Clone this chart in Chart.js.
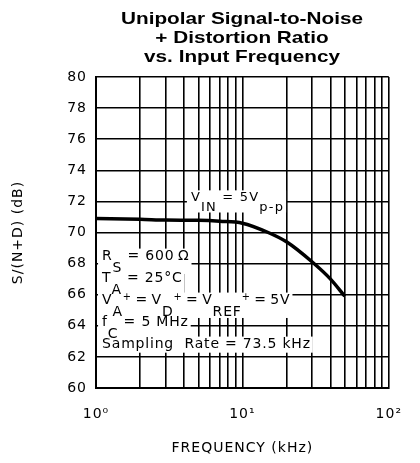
<!DOCTYPE html>
<html lang="en">
<head>
<meta charset="UTF-8">
<title>Unipolar Signal-to-Noise + Distortion Ratio vs. Input Frequency</title>
<script src="https://cdn.jsdelivr.net/npm/chart.js"></script>
<style>
  html, body { margin: 0; padding: 0; background: #fff; }
  #wrap { width: 420px; height: 463px; }
</style>
</head>
<body>
<div id="wrap"><canvas id="sndrChart" width="420" height="463"></canvas></div>
<script>
// curve
const freqKHz = [1, 2, 3, 5, 7, 10, 15, 20, 30, 40, 50];
const sndrDB  = [70.9, 70.85, 70.8, 70.78, 70.72, 70.6, 70.0, 69.4, 68.1, 67.0, 65.9];

// axes
const xGridTicks   = [1, 2, 3, 4, 5, 6, 7, 8, 9, 10, 20, 30, 40, 50, 60, 70, 80, 90, 100];
const xLabelValues = [1, 10, 100];
const xLabelText   = ['10⁰', '10¹', '10²'];
const yTicks       = [60, 62, 64, 66, 68, 70, 72, 74, 76, 78, 80];

const titleLines = ['Unipolar Signal-to-Noise', '+ Distortion Ratio', 'vs. Input Frequency'];
const xTitle = 'FREQUENCY (kHz)';
const yTitle = 'S/(N+D) (dB)';

// note text: [text, 0 normal / -1 subscript / 1 superscript]
const noteVin = [['V', 0], ['IN', -1], [' = 5V', 0], ['p-p', -1]];
const noteConditions = [
    [['R', 0], ['S', -1], [' = 600\u2009Ω', 0]],
    [['T', 0], ['A', -1], [' = 25°C', 0]],
    [['V', 0], ['A', -1], ['+', 1], ['\u2009=\u2009V', 0], ['D', -1], ['+', 1], ['\u2009=\u2009V', 0], ['REF', -1], ['+', 1], ['\u2009=\u20095V', 0]],
    [['f', 0], ['C', -1], [' = 5 MHz', 0]],
    [['Sampling  Rate = 73.5 kHz', 0]]
];

const FONT = '"DejaVu Sans", sans-serif';
const SUP_SCALE = 0.7;

function segFont(size, s) {
    return (s > 0 ? size * SUP_SCALE : size) + 'px ' + FONT;
}

function layoutRich(ctx, segs, x, size) {
    let cx = x;
    return segs.map(([t, s]) => {
        ctx.font = segFont(size, s);
        const w = ctx.measureText(t).width;
        const p = { t, s, x: cx, w };
        cx += w;
        return p;
    });
}

function drawRich(ctx, parts, y, size, subDrop) {
    ctx.fillStyle = '#000';
    ctx.textBaseline = 'alphabetic';
    ctx.textAlign = 'left';
    parts.forEach(p => {
        ctx.font = segFont(size, p.s);
        const dy = p.s < 0 ? size * subDrop : (p.s > 0 ? -size * 0.35 : 0);
        ctx.fillText(p.t, p.x, y + dy);
    });
}

function boxRich(ctx, parts, y, size, subDrop) {
    const last = parts[parts.length - 1];
    const hasSub = parts.some(p => p.s < 0);
    const top = y - size * 0.85;
    const bottom = y + (hasSub ? size * subDrop + 2 : size * 0.3);
    ctx.fillStyle = '#fff';
    ctx.fillRect(parts[0].x - 4, top, last.x + last.w - parts[0].x + 6, bottom - top);
}

// wider letters like the datasheet lettering
const spacingPlugin = {
    id: 'spacing',
    beforeUpdate(chart) { chart.ctx.letterSpacing = '1px'; },
    beforeDraw(chart) { chart.ctx.letterSpacing = '1px'; }
};

const notesPlugin = {
    id: 'notes',
    beforeDatasetsDraw(chart) {
        const { ctx, scales: { x, y } } = chart;
        ctx.save();

        // V_IN label sits on the 72 dB line
        ctx.letterSpacing = '1.2px';
        const vSize = 13, vDrop = 0.7;
        const vx = x.getPixelForValue(4.45), vy = y.getPixelForValue(72);
        const vParts = layoutRich(ctx, noteVin, vx, vSize);
        boxRich(ctx, vParts, vy, vSize, vDrop);
        drawRich(ctx, vParts, vy, vSize, vDrop);

        // test conditions block
        ctx.letterSpacing = '0.8px';
        const size = 14, drop = 0.82, step = 22;
        const cx = x.getPixelForValue(1.1), cy = y.getPixelForValue(68.2);
        const lines = noteConditions.map(segs => layoutRich(ctx, segs, cx, size));
        lines.forEach((parts, i) => boxRich(ctx, parts, cy + i * step, size, drop));
        lines.forEach((parts, i) => drawRich(ctx, parts, cy + i * step, size, drop));

        ctx.restore();
    }
};

const titlePlugin = {
    id: 'wideTitle',
    afterDraw(chart) {
        const { ctx } = chart;
        ctx.save();
        ctx.letterSpacing = '0px';
        ctx.fillStyle = '#000';
        ctx.textAlign = 'center';
        ctx.textBaseline = 'alphabetic';
        ctx.font = 'bold 17px "Liberation Sans", Arial, sans-serif';
        titleLines.forEach((line, i) => {
            ctx.save();
            ctx.translate(242, 24 + i * 18.8);
            ctx.scale(1.22, 1);
            ctx.fillText(line, 0, 0);
            ctx.restore();
        });
        ctx.restore();
    }
};

const ctx = document.getElementById('sndrChart').getContext('2d');
new Chart(ctx, {
    type: 'line',
    data: {
        datasets: [{
            data: freqKHz.map((f, i) => ({ x: f, y: sndrDB[i] })),
            borderColor: '#000',
            borderWidth: 3.5,
            pointRadius: 0,
            fill: false,
            cubicInterpolationMode: 'monotone'
        }]
    },
    options: {
        responsive: false,
        animation: false,
        layout: { padding: { left: 0, right: 12, top: 77, bottom: 0 } },
        plugins: {
            legend: { display: false },
            tooltip: { enabled: false },
            title: { display: false }
        },
        scales: {
            x: {
                type: 'logarithmic',
                min: 1,
                max: 100,
                afterBuildTicks: s => { s.ticks = xGridTicks.map(v => ({ value: v })); },
                afterFit: s => { s.height = 75; },
                ticks: {
                    autoSkip: false,
                    maxRotation: 0,
                    padding: 18,
                    color: '#000',
                    font: { family: FONT, size: 14 },
                    callback: v => {
                        const i = xLabelValues.indexOf(v);
                        return i >= 0 ? xLabelText[i] : '';
                    }
                },
                grid: { color: '#000', lineWidth: 1.6, drawTicks: false },
                border: { color: '#000', width: 2 },
                title: {
                    display: true,
                    text: xTitle,
                    color: '#000',
                    font: { family: FONT, size: 14 },
                    padding: { top: 0, bottom: 6.6 }
                }
            },
            y: {
                min: 60,
                max: 80,
                afterBuildTicks: s => { s.ticks = yTicks.map(v => ({ value: v })); },
                afterFit: s => { s.width = 96; },
                ticks: {
                    padding: 9,
                    color: '#000',
                    font: { family: FONT, size: 14 }
                },
                grid: { color: '#000', lineWidth: 1.6, drawTicks: false },
                border: { color: '#000', width: 2 },
                title: {
                    display: true,
                    text: yTitle,
                    color: '#000',
                    font: { family: FONT, size: 14 },
                    padding: { top: 10, bottom: 0 }
                }
            }
        }
    },
    plugins: [spacingPlugin, notesPlugin, titlePlugin]
});
</script>
</body>
</html>
